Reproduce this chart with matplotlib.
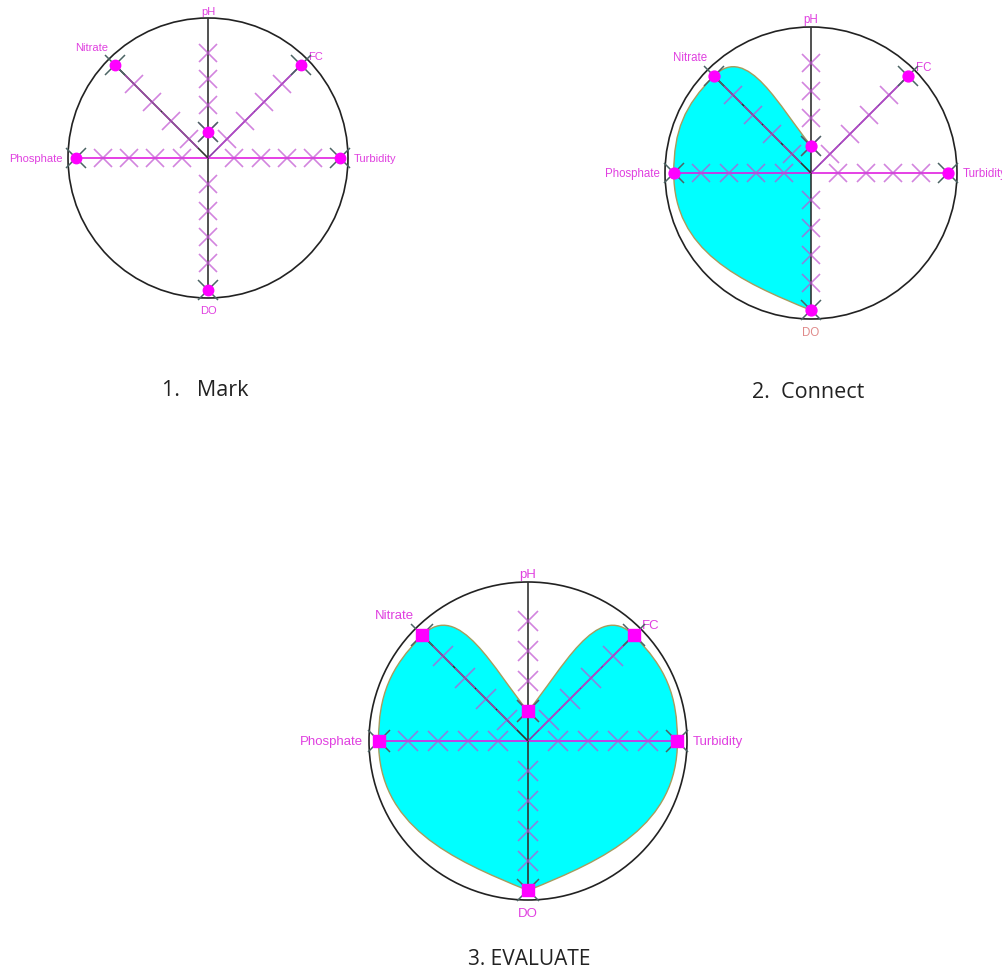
import numpy as np
import matplotlib
matplotlib.use('Agg')
import matplotlib.pyplot as plt
from matplotlib.path import Path
from matplotlib.patches import PathPatch, Circle, Rectangle

# parameters on the wheel, clockwise from the top
param_names = ['pH', 'FC', 'Turbidity', 'DO', 'Phosphate', 'Nitrate']
param_angles = [90, 45, 0, -90, 180, 135]  # degrees
param_values = [1, 5, 5, 5, 5, 5]
tick_values = [1, 2, 3, 4]
axis_max = 5

captions = ['1.   Mark', '2.  Connect', '3. EVALUATE']

# shape of the connecting curve (direction the outline runs through each point)
tangent_in = [-50, -45, -90, -158, 90, 45]
tangent_out = [50, -45, -90, 158, 90, 45]

W, H = 1002, 970
fig = plt.figure(figsize=(W / 100, H / 100), dpi=100)

MAGENTA = '#ff00ff'
LABEL = '#e040e0'


def direction(deg):
    a = np.radians(deg)
    return np.array([np.cos(a), np.sin(a)])


def shape_path(k=0.4):
    pts = [v * direction(a) for v, a in zip(param_values, param_angles)]
    n = len(pts)
    verts = [pts[0]]
    codes = [Path.MOVETO]
    for i in range(n):
        p0, p1 = pts[i], pts[(i + 1) % n]
        h = k * np.linalg.norm(p1 - p0)
        verts += [p0 + h * direction(tangent_out[i]),
                  p1 - h * direction(tangent_in[(i + 1) % n]),
                  p1]
        codes += [Path.CURVE4] * 3
    verts.append(pts[0])
    codes.append(Path.CLOSEPOLY)
    return Path(verts, codes)


def draw_panel(cx, cy, R, fill, font, dot_marker, do_color, lim=6.0):
    unit = R * 0.94 / axis_max  # pixels per value unit
    rc = R / unit
    half = lim * unit
    ax = fig.add_axes([(cx - half) / W, (H - cy - half) / H,
                       2 * half / W, 2 * half / H])
    ax.set_xlim(-lim, lim)
    ax.set_ylim(-lim, lim)
    ax.axis('off')
    s = unit / 26.3

    if fill is not None:
        patch = PathPatch(shape_path(), facecolor='#00ffff',
                          edgecolor='#a89c5c', lw=1.0, zorder=1)
        ax.add_patch(patch)
        if fill == 'left':
            clip = Rectangle((-lim, -lim), lim, 2 * lim, transform=ax.transData)
            patch.set_clip_path(clip)

    ax.add_patch(Circle((0, 0), rc, fill=False, ec='#222222', lw=1.2, zorder=2))

    line_colors = {'pH': '#333333', 'DO': '#333333', 'Nitrate': '#333333',
                   'FC': '#8a3aa8', 'Turbidity': '#e020e0', 'Phosphate': '#e020e0'}
    for name, ang in zip(param_names, param_angles):
        d = direction(ang)
        end = rc if name == 'pH' else axis_max
        ax.plot([0, end * d[0]], [0, end * d[1]], color=line_colors[name],
                lw=1.2, zorder=3, solid_capstyle='butt')
        tv = np.array(tick_values)
        ax.plot(tv * d[0], tv * d[1], ls='none', marker='x', ms=12.5 * s,
                mew=1.2, color='#c050d0', alpha=0.7, zorder=4)

    for name, ang, v in zip(param_names, param_angles, param_values):
        d = direction(ang)
        ax.plot(v * d[0], v * d[1], marker='x', ms=14 * s, mew=1.1,
                color='#4c6464', zorder=5)
        ax.plot(v * d[0], v * d[1], marker=dot_marker,
                ms=(7.5 if dot_marker == 'o' else 7) * s,
                color=MAGENTA, mec=MAGENTA, zorder=6)

    fs = font
    ax.text(0, rc + 0.08, 'pH', ha='center', va='bottom', fontsize=fs, color=LABEL,
            family='Liberation Sans')
    ax.text(0, -(rc + 0.25), 'DO', ha='center', va='top', fontsize=fs, color=do_color,
            family='Liberation Sans')
    ax.text(-(rc + 0.2), 0, 'Phosphate', ha='right', va='center', fontsize=fs,
            color=LABEL, family='Liberation Sans')
    ax.text(rc + 0.2, 0, 'Turbidity', ha='left', va='center', fontsize=fs,
            color=LABEL, family='Liberation Sans')
    ax.text(-3.8, 4.1, 'Nitrate', ha='right', va='baseline', fontsize=fs,
            color=LABEL, family='Liberation Sans')
    ax.text(3.82, 3.87, 'FC', ha='left', va='center', fontsize=fs,
            color=LABEL, family='Liberation Sans')


draw_panel(208, 159, 140, None, 8.0, 'o', LABEL)
draw_panel(811, 174, 146, 'left', 8.3, 'o', '#e08a8a')
draw_panel(528, 742, 159, 'full', 9.5, 's', LABEL)

cap_font = ['Open Sans']
fig.text(162 / W, 1 - 396 / H, captions[0], ha='left', va='baseline',
         fontsize=15.5, family=cap_font, color='#222222')
fig.text(752 / W, 1 - 398 / H, captions[1], ha='left', va='baseline',
         fontsize=15.5, family=cap_font, color='#222222')
fig.text(468 / W, 1 - 965 / H, captions[2], ha='left', va='baseline',
         fontsize=15.0, family=cap_font, color='#222222')

fig.savefig('out.png', dpi=100)
